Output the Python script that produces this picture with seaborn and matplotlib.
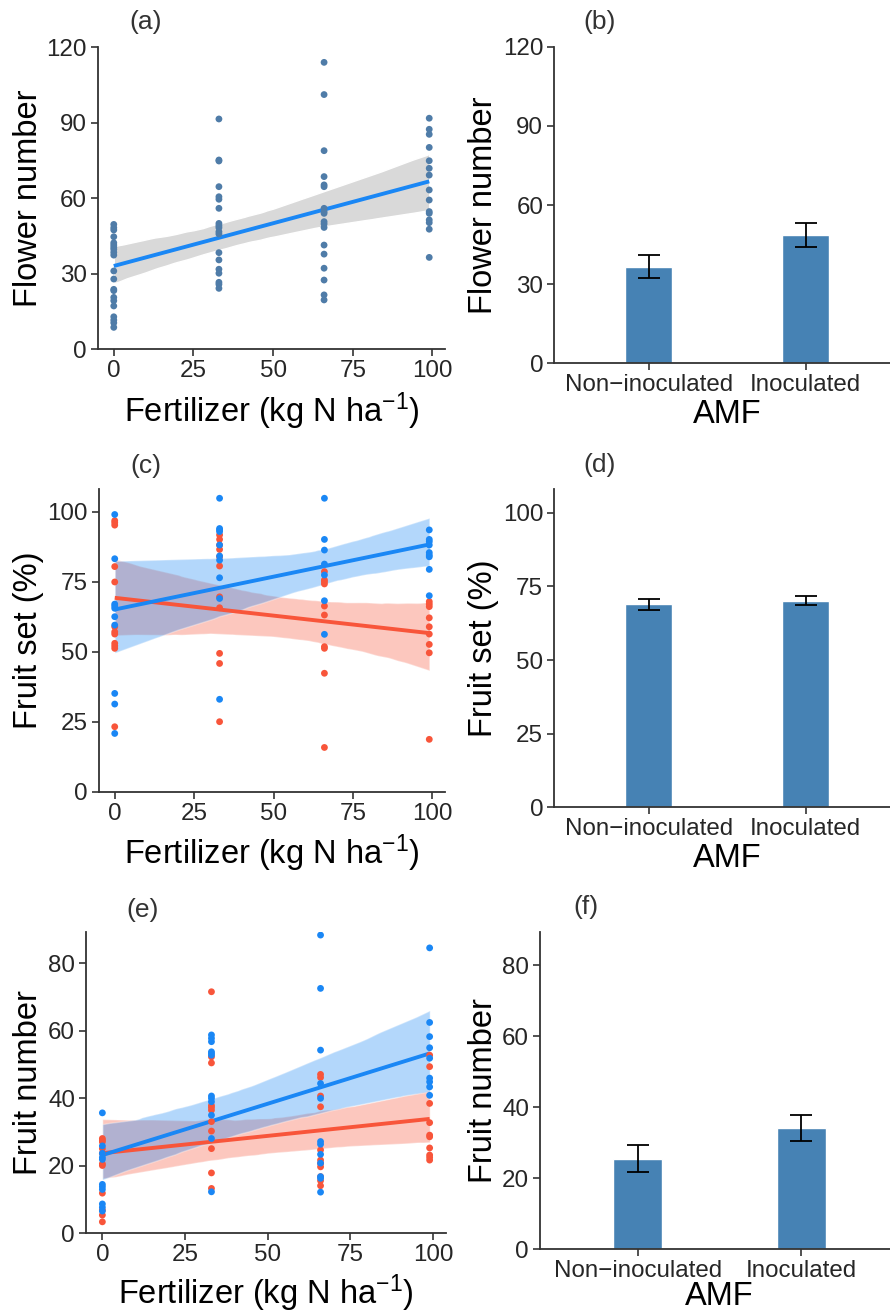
import numpy as np
import pandas as pd
import matplotlib
matplotlib.use("Agg")
import matplotlib.pyplot as plt
import matplotlib.transforms as mtransforms
import seaborn as sns

# ---------------- data ----------------
fert_levels = [0, 33, 66, 99]

# (a) flower number
flower_0 = [49.5, 48.2, 47.3, 44.6, 42.2, 41.3, 40.4, 39.6, 38.4, 37.3, 31.0, 27.8,
            23.7, 23.2, 20.5, 19.2, 17.1, 12.8, 11.5, 10.4, 8.6]
flower_33 = [91.4, 75.1, 74.7, 64.5, 60.5, 59.5, 55.9, 49.9, 49.0, 48.2, 46.6, 45.7,
             38.3, 35.4, 31.7, 30.1, 26.5, 25.7, 24.1]
flower_66 = [113.9, 101.1, 78.8, 68.5, 65.2, 64.5, 55.9, 54.6, 53.9, 50.6, 49.7, 48.3,
             41.3, 37.7, 32.1, 27.4, 21.5, 19.5]
flower_99 = [91.7, 87.3, 85.3, 80.1, 74.8, 71.8, 69.1, 63.2, 59.2, 54.6, 53.9, 51.3,
             50.2, 47.6, 36.4]

# (c) fruit set (%)
fs_inoc_0 = [99.0, 83.2, 67.0, 66.3, 65.5, 62.5, 59.5, 35.1, 31.3, 20.8]
fs_inoc_33 = [104.8, 94.0, 93.5, 92.9, 88.1, 84.2, 82.7, 76.4, 69.0, 33.0]
fs_inoc_66 = [104.8, 90.1, 86.3, 81.3, 77.4, 68.2, 56.2]
fs_inoc_99 = [93.5, 90.1, 89.3, 88.1, 85.4, 84.5, 83.9, 79.4, 70.0]
fs_non_0 = [96.8, 96.1, 95.2, 80.4, 74.9, 58.9, 57.1, 56.3, 53.0, 52.1, 51.2, 23.2]
fs_non_33 = [91.7, 90.1, 88.1, 86.5, 83.9, 80.6, 69.6, 65.7, 49.4, 45.8, 25.0]
fs_non_66 = [78.6, 75.6, 75.0, 74.2, 66.3, 63.1, 51.8, 51.2, 42.3, 15.8]
fs_non_99 = [67.9, 67.0, 66.1, 62.1, 58.9, 56.3, 52.6, 49.6, 18.7]

# (e) fruit number
fn_inoc_0 = [35.7, 25.9, 23.7, 22.5, 21.9, 14.5, 13.8, 13.0, 8.7, 7.7, 6.6]
fn_inoc_33 = [58.8, 57.8, 56.8, 53.8, 53.3, 52.8, 40.7, 40.0, 39.0, 35.0, 28.1, 12.3]
fn_inoc_66 = [88.4, 72.6, 54.3, 44.4, 40.0, 27.2, 26.4, 23.4, 20.8, 16.8, 16.3, 12.2]
fn_inoc_99 = [84.6, 62.5, 58.3, 55.0, 51.9, 46.0, 44.9, 43.4, 40.9]
fn_non_0 = [28.1, 27.6, 27.1, 25.1, 23.7, 20.6, 20.1, 11.9, 6.9, 5.4, 3.4]
fn_non_33 = [71.6, 52.3, 50.5, 37.9, 37.3, 36.5, 33.1, 30.3, 25.1, 17.9, 13.3]
fn_non_66 = [47.1, 46.2, 40.7, 37.5, 24.7, 21.7, 20.7, 19.7, 16.8, 15.6, 14.1]
fn_non_99 = [52.8, 49.4, 38.5, 32.8, 29.1, 28.6, 25.3, 23.2, 22.5, 21.7]

# bar panels
amf_levels = ["Non\u2212inoculated", "Inoculated"]
flower_mean = [36.6, 48.5]
flower_se = [4.4, 4.5]
fruitset_mean = [68.9, 70.1]
fruitset_se = [1.8, 1.55]
fruitnum_mean = [25.5, 34.1]
fruitnum_se = [3.75, 3.75]

x_ticks = [0, 25, 50, 75, 100]


def long_df(groups):
    rows = []
    for grp, lists in groups.items():
        for lvl, vals in zip(fert_levels, lists):
            for v in vals:
                rows.append((lvl, v, grp))
    return pd.DataFrame(rows, columns=["fert", "val", "grp"])


df_a = long_df({"all": [flower_0, flower_33, flower_66, flower_99]})
df_c = long_df({"Non": [fs_non_0, fs_non_33, fs_non_66, fs_non_99],
                "Inoc": [fs_inoc_0, fs_inoc_33, fs_inoc_66, fs_inoc_99]})
df_e = long_df({"Non": [fn_non_0, fn_non_33, fn_non_66, fn_non_99],
                "Inoc": [fn_inoc_0, fn_inoc_33, fn_inoc_66, fn_inoc_99]})

# ---------------- style ----------------
sns.set_style("ticks")
plt.rcParams["font.family"] = ["Liberation Sans", "DejaVu Sans"]
plt.rcParams["mathtext.fontset"] = "custom"
plt.rcParams["mathtext.rm"] = "Liberation Sans"
plt.rcParams["mathtext.it"] = "Liberation Sans:italic"
plt.rcParams["mathtext.bf"] = "Liberation Sans:bold"

SPINE = "#333333"
TICKTXT = "#262626"
BLUE = "#1A87F5"
RED = "#F8553A"
PT_A = "#4F7CA8"
BAR = "#4682B4"

TICK_FS = 17.4
LAB_FS = 23.5

W, H = 890, 1313
fig = plt.figure(figsize=(W / 100, H / 100), dpi=100)


def add_ax(left, top, right, bottom):
    return fig.add_axes([left / W, 1 - bottom / H, (right - left) / W, (bottom - top) / H])


def style_ax(ax, ylabel, xlabel, ylab_x, xlab_base):
    for s in ["top", "right"]:
        ax.spines[s].set_visible(False)
    for s in ["left", "bottom"]:
        ax.spines[s].set_color(SPINE)
        ax.spines[s].set_linewidth(1.3)
    ax.tick_params(axis="both", length=5, width=1.2, color=SPINE,
                   labelsize=TICK_FS, labelcolor=TICKTXT, pad=3)
    ax.set_ylabel(ylabel, fontsize=LAB_FS, color="black")
    ax.set_xlabel(xlabel, fontsize=LAB_FS, color="black")
    ax.yaxis.label.set_va("baseline")
    ax.yaxis.label.set_rotation_mode("anchor")
    ax.yaxis.set_label_coords(ylab_x / W, 0.5,
                              transform=mtransforms.blended_transform_factory(fig.transFigure, ax.transAxes))
    ax.xaxis.label.set_va("baseline")
    ax.xaxis.set_label_coords(0.5, 1 - xlab_base / H,
                              transform=mtransforms.blended_transform_factory(ax.transAxes, fig.transFigure))
    ax.grid(False)


def scatter_panel(ax, df, groups, ylim, yticks, grey_band=False):
    for grp, col in groups:
        sub = df[df["grp"] == grp]
        n0 = len(ax.collections)
        sns.regplot(data=sub, x="fert", y="val", ax=ax, scatter=False, color=col,
                    ci=99, n_boot=2000, seed=3, truncate=True,
                    line_kws={"lw": 2.8, "solid_capstyle": "butt"})
        for coll in ax.collections[n0:]:
            if grey_band:
                coll.set_facecolor("#D9D9D9")
                coll.set_alpha(1.0)
            else:
                coll.set_alpha(0.33)
            coll.set_zorder(1)
    for line in ax.lines:
        line.set_zorder(2)
    pal = {g: (PT_A if grey_band else c) for g, c in groups}
    sns.scatterplot(data=df, x="fert", y="val", hue="grp", palette=pal, s=24,
                    linewidth=0, legend=False, ax=ax, zorder=3)
    ax.set_xlim(-4.95, 103.95)
    ax.set_xticks(x_ticks)
    ax.set_ylim(*ylim)
    ax.set_yticks(yticks)


def bar_panel(ax, means, ses, ylim, yticks):
    bdf = pd.DataFrame({"amf": amf_levels, "val": means})
    sns.barplot(data=bdf, x="amf", y="val", order=amf_levels, color=BAR,
                width=0.3, errorbar=None, ax=ax, saturation=1)
    ax.errorbar(x=[0, 1], y=means, yerr=ses, fmt="none", ecolor="black",
                elinewidth=1.3, capsize=8, capthick=1.3, zorder=5)
    ax.set_xlim(-0.6, 1.6)
    ax.set_ylim(*ylim)
    ax.set_yticks(yticks)


FERT_LAB = r"Fertilizer (kg N ha$^{\mathrm{-1}}$)"

# (a)
ax_a = add_ax(98, 47, 445, 349)
scatter_panel(ax_a, df_a, [("all", BLUE)], (0, 120), [0, 30, 60, 90, 120], grey_band=True)
style_ax(ax_a, "Flower number", FERT_LAB, 37, 421.7)

# (b)
ax_b = add_ax(554.3, 46.7, 900, 363.3)
bar_panel(ax_b, flower_mean, flower_se, (0, 120), [0, 30, 60, 90, 120])
style_ax(ax_b, "Flower number", "AMF", 492, 422.7)

# (c)
ax_c = add_ax(99, 489.3, 445, 791.7)
scatter_panel(ax_c, df_c, [("Non", RED), ("Inoc", BLUE)], (0, 108), [0, 25, 50, 75, 100])
style_ax(ax_c, "Fruit set (%)", FERT_LAB, 37, 864.4)

# (d)
ax_d = add_ax(554.3, 489.3, 900, 807.3)
bar_panel(ax_d, fruitset_mean, fruitset_se, (0, 108), [0, 25, 50, 75, 100])
style_ax(ax_d, "Fruit set (%)", "AMF", 492, 866.7)

# (e)
ax_e = add_ax(86, 931.7, 446, 1233.3)
scatter_panel(ax_e, df_e, [("Non", RED), ("Inoc", BLUE)], (0, 89.4), [0, 20, 40, 60, 80])
style_ax(ax_e, "Fruit number", FERT_LAB, 37, 1304)

# (f)
ax_f = add_ax(540, 931.7, 899, 1249.3)
bar_panel(ax_f, fruitnum_mean, fruitnum_se, (0, 89.4), [0, 20, 40, 60, 80])
style_ax(ax_f, "Fruit number", "AMF", 492, 1305)

# panel letters
for lab, px, py in [("(a)", 146, 22), ("(b)", 600, 22), ("(c)", 146, 466),
                    ("(d)", 600, 465), ("(e)", 143, 910), ("(f)", 586, 907)]:
    fig.text(px / W, 1 - py / H, lab, ha="center", va="center", fontsize=19, color="#333333")

fig.savefig("out.png", dpi=100)
